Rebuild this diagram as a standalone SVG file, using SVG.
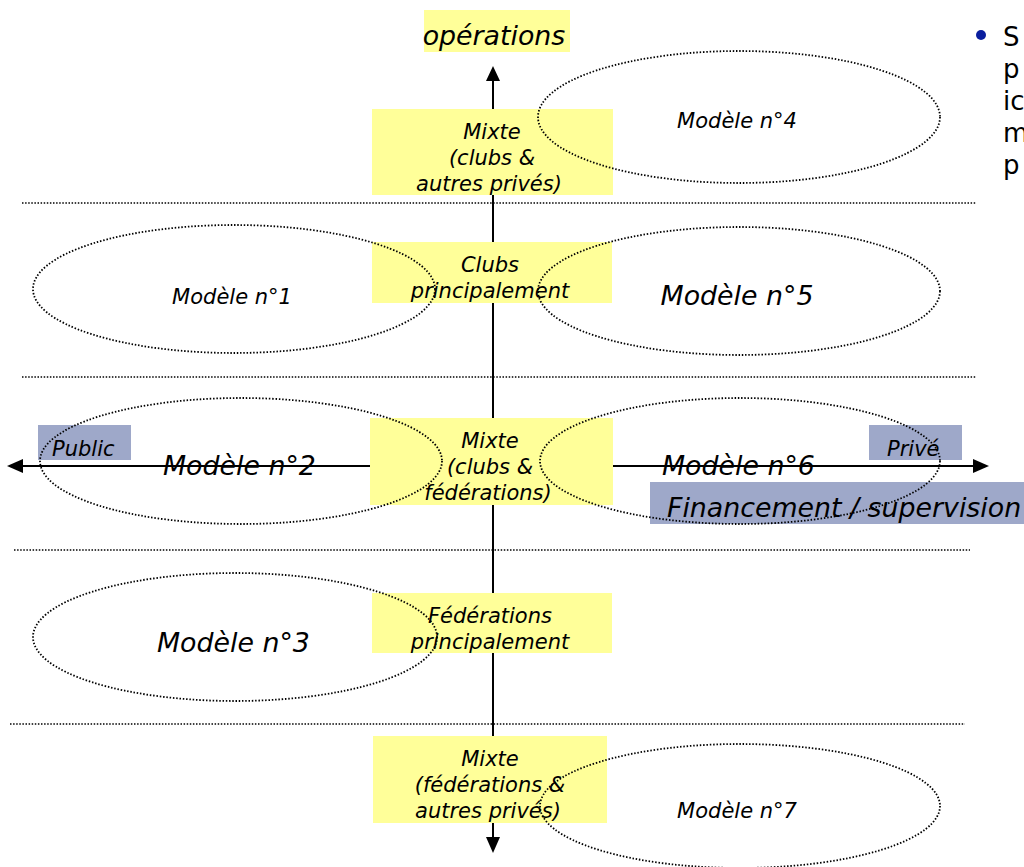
<svg xmlns="http://www.w3.org/2000/svg" width="1024" height="867" viewBox="0 0 1024 867">
<defs>
<style>
.t{font-family:"DejaVu Sans","Liberation Sans",sans-serif;font-style:italic;fill:#000}
.s{font-size:21px}
.l{font-size:26.8px}
.c{text-anchor:middle}
.yb{fill:#FFFF99}
.bb{fill:#9EA8C9}
.sep{stroke:#000;stroke-width:1.6;stroke-dasharray:1.5 1.6;fill:none}
.ell{stroke:#000;stroke-width:1.8;stroke-dasharray:1.5 1.8;fill:none}
.ax{stroke:#000;stroke-width:2;fill:none}
.r{font-family:"DejaVu Sans","Liberation Sans",sans-serif;font-size:26px;fill:#000}
</style>
</defs>
<rect width="1024" height="867" fill="#fff"/>
<g id="separators">
<line class="sep" x1="22" y1="203" x2="976" y2="203"/>
<line class="sep" x1="22" y1="377" x2="976" y2="377"/>
<line class="sep" x1="14" y1="550" x2="970" y2="550"/>
<line class="sep" x1="10" y1="724" x2="965" y2="724"/>
</g>
<g id="connectors">
<path d="M493,466 L493,80" class="ax"/>
<path d="M493,66 L486,81 L500,81 z" fill="#000"/>
<path d="M493,466 L493,838" class="ax"/>
<path d="M493,853 L486,837 L500,837 z" fill="#000"/>
<path d="M493,466 L22,466" class="ax"/>
<path d="M7,466 L23,459 L23,473 z" fill="#000"/>
<path d="M493,466 L974,466" class="ax"/>
<path d="M989,466 L973,459 L973,473 z" fill="#000"/>
</g>
<g id="operations">
<rect class="yb" x="424" y="10" width="146" height="42"/>
<text class="t l c" x="494" y="45">opérations</text>
</g>
<g id="box-mixte-clubs-prives">
<rect class="yb" x="372" y="109" width="241" height="86"/>
<text class="t s c" x="492" y="139">Mixte</text>
<text class="t s c" x="492" y="165">(clubs &amp;</text>
<text class="t s c" x="489" y="191">autres privés)</text>
</g>
<g id="box-clubs">
<rect class="yb" x="372" y="242" width="240" height="61"/>
<text class="t s c" x="490" y="272">Clubs</text>
<text class="t s c" x="490" y="298">principalement</text>
</g>
<g id="box-mixte-clubs-fed">
<rect class="yb" x="370" y="418" width="243" height="87"/>
<text class="t s c" x="490" y="448">Mixte</text>
<text class="t s c" x="490" y="474">(clubs &amp;</text>
<text class="t s c" x="488" y="500">fédérations)</text>
</g>
<g id="box-federations">
<rect class="yb" x="372" y="593" width="240" height="60"/>
<text class="t s c" x="490" y="623">Fédérations</text>
<text class="t s c" x="490" y="649">principalement</text>
</g>
<g id="box-mixte-fed-prives">
<rect class="yb" x="373" y="736" width="234" height="87"/>
<text class="t s c" x="490" y="766">Mixte</text>
<text class="t s c" x="490" y="792">(fédérations &amp;</text>
<text class="t s c" x="488" y="818">autres privés)</text>
</g>
<g id="public">
<rect class="bb" x="38" y="425" width="93" height="35"/>
<text class="t s" x="52" y="456">Public</text>
</g>
<g id="prive">
<rect class="bb" x="869" y="425" width="93" height="35"/>
<text class="t s" x="887" y="456">Privé</text>
</g>
<g id="financement">
<rect class="bb" x="650" y="482" width="374" height="42"/>
<text class="t l" x="667" y="517">Financement / supervision</text>
</g>
<g id="modele4">
<ellipse class="ell" cx="739" cy="117" rx="201" ry="66"/>
<text class="t s c" x="737" y="128">Modèle n°4</text>
</g>
<g id="modele1">
<ellipse class="ell" cx="234" cy="289" rx="201" ry="64"/>
<text class="t s c" x="232" y="304">Modèle n°1</text>
</g>
<g id="modele5">
<ellipse class="ell" cx="739" cy="291" rx="201" ry="64"/>
<text class="t l c" x="737" y="305">Modèle n°5</text>
</g>
<g id="modele2">
<ellipse class="ell" cx="241" cy="461" rx="201" ry="63"/>
<text class="t l" x="163" y="475">Modèle n°2</text>
</g>
<g id="modele6">
<ellipse class="ell" cx="740" cy="461" rx="200" ry="63"/>
<text class="t l" x="662" y="475">Modèle n°6</text>
</g>
<g id="modele3">
<ellipse class="ell" cx="235" cy="637" rx="202" ry="64"/>
<text class="t l" x="157" y="652">Modèle n°3</text>
</g>
<g id="modele7">
<ellipse class="ell" cx="740" cy="806" rx="200" ry="62"/>
<text class="t s c" x="737" y="818">Modèle n°7</text>
</g>
<g id="bullet">
<circle cx="981" cy="35" r="5" fill="#0A1E9E"/>
<text class="r" x="1003" y="46">S</text>
<text class="r" x="1003" y="78">p</text>
<text class="r" x="1003" y="110">ic</text>
<text class="r" x="1003" y="142">m</text>
<text class="r" x="1003" y="174">p</text>
</g>
</svg>
